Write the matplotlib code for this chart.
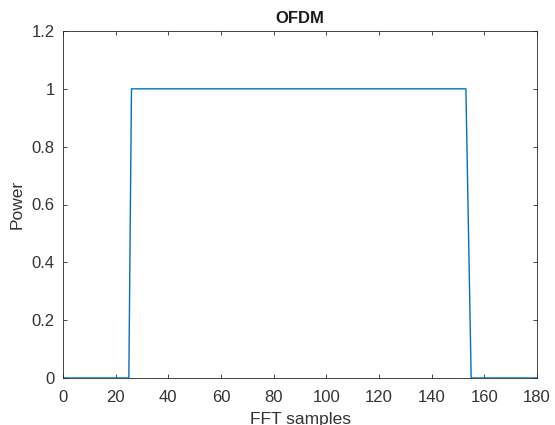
import matplotlib
matplotlib.use("Agg")
import matplotlib.pyplot as plt

# Breakpoints of the OFDM power profile
x_pts = [0, 25, 26, 153, 155, 180]
power = [0, 0, 1, 1, 0, 0]
xticks = [0, 20, 40, 60, 80, 100, 120, 140, 160, 180]
yticks = [0, 0.2, 0.4, 0.6, 0.8, 1.0, 1.2]
yticklabels = ["0", "0.2", "0.4", "0.6", "0.8", "1", "1.2"]

plt.rcParams['font.family'] = ['Liberation Sans', 'DejaVu Sans']

fig = plt.figure(figsize=(5.55, 4.25), dpi=100)
ax = fig.add_axes([63/555, 47/425, 474/555, 347/425])
ax.plot(x_pts, power, color='#0072BD', linewidth=1.0)
ax.set_xlim(0, 180)
ax.set_ylim(0, 1.2)
ax.set_xticks(xticks)
ax.set_xticklabels([str(t) for t in xticks])
ax.set_yticks(yticks)
ax.set_yticklabels(yticklabels)
ax.tick_params(direction='in', top=True, right=True, labelsize=12, length=3,
               colors='#262626', labelcolor='#333333', width=0.6)
ax.tick_params(axis='x', pad=9)
ax.tick_params(axis='y', pad=6)
for s in ax.spines.values():
    s.set_color('#262626')
    s.set_linewidth(0.6)
ax.set_title('OFDM', fontsize=12, fontweight='bold', pad=6, color='#1a1a1a')
ax.set_xlabel('FFT samples', fontsize=12.5, color='#333333', labelpad=5)
ax.set_ylabel('Power', fontsize=12.5, color='#333333', labelpad=5)
fig.savefig('out.png', dpi=100)
